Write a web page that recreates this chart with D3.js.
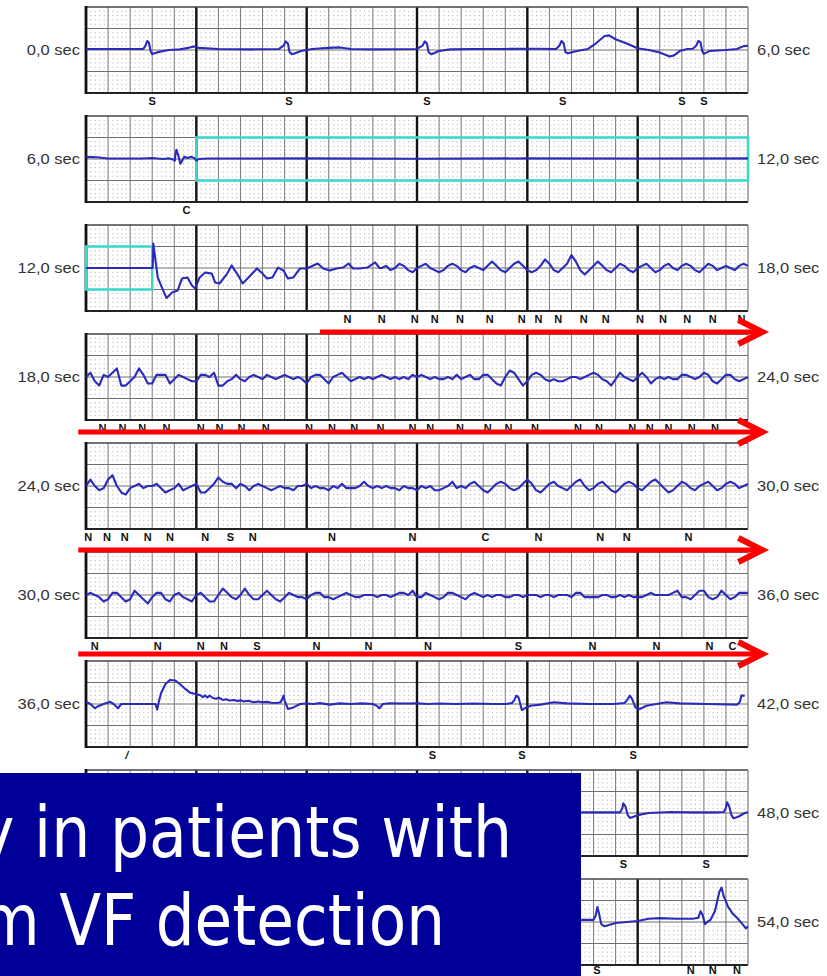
<!DOCTYPE html>
<html>
<head>
<meta charset="utf-8">
<script src="https://cdn.jsdelivr.net/npm/d3@7"></script>
<style>
  body { margin: 0; background: #fff; }
  svg { display: block; }
</style>
</head>
<body>
<svg id="chart" width="827" height="976"></svg>
<script>
// ---- recording layout constants ----
const STRIP_SECONDS = 6;
const SAMPLE_STEP = 0.04;           // seconds between samples in the uniform traces
const FIB3_START = 2.68;            // where the uniform part of strip 3 begins

const startLabels = ["0,0 sec", "6,0 sec", "12,0 sec", "18,0 sec", "24,0 sec", "30,0 sec", "36,0 sec", "42,0 sec", "48,0 sec"];
const endLabels   = ["6,0 sec", "12,0 sec", "18,0 sec", "24,0 sec", "30,0 sec", "36,0 sec", "42,0 sec", "48,0 sec", "54,0 sec"];

// Sparse traces: [seconds into strip, amplitude in tenths of a major division]
const trace1 = [[0,0.5],[0.3,0.5],[0.52,0.5],[0.54,2],[0.555,4.2],[0.57,3.5],[0.585,-0.5],[0.6,-1.9],[0.65,-1],[0.75,0],[0.85,0.3],[0.93,1],[0.98,1.6],[1.02,1],[1.2,0.5],[1.5,0.3],[1.75,0.5],
  [1.79,2],[1.81,4],[1.83,3],[1.845,-1],[1.87,-2],[1.95,-0.5],[2.05,0.5],[2.2,1],[2.3,1.2],[2.4,0.5],[2.6,0.3],[3.0,0.5],
  [3.05,2],[3.07,4],[3.09,3],[3.105,-1],[3.13,-2],[3.2,-0.5],[3.3,0.3],[3.5,0.5],[3.8,0.5],[4.1,0.6],[4.26,0.5],
  [4.29,2],[4.31,4.2],[4.33,3],[4.345,-1],[4.37,-1.5],[4.45,-0.5],[4.55,0.5],[4.62,3],[4.7,6.5],[4.74,6.8],[4.8,5],[4.9,3],[5.0,0.8],[5.1,0],[5.2,-1.2],[5.29,-3],[5.33,-2.5],[5.38,-0.5],[5.45,0.5],[5.5,0.6],
  [5.53,2],[5.55,4.2],[5.57,3.5],[5.585,-0.5],[5.6,-1.8],[5.65,-0.5],[5.8,0],[5.9,0.5],[5.96,1.8],[6.0,2]];

const trace2 = [[0,1],[0.1,0.8],[0.2,0.2],[0.5,0.2],[0.6,0.5],[0.7,0],[0.75,0.3],[0.8,-0.5],[0.805,-0.8],[0.81,2],[0.82,4.3],[0.84,1],[0.855,-2.2],[0.87,-1],[0.89,1],[0.92,0.5],[0.95,1],[0.98,0.5],[1.0,-0.8],[1.02,0],[1.1,0.2],
  [2.0,0.3],[3.0,0.1],[4.0,0.3],[5.0,0.2],[6.0,0.3]];

const trace3Onset = [[0,0],[0.6,0],[0.605,0.5],[0.61,11.4],[0.65,-4.4],[0.7,-10.5],[0.73,-14],[0.78,-11.4],[0.83,-10.5],[0.87,-4.9],[0.92,-4.4],[0.96,-8.1],[0.99,-9.5],[1.03,-4.4],[1.08,-2.1],[1.14,-2.6],[1.17,-6.7],[1.21,-7.2],[1.28,-2.6],[1.32,1.2],[1.35,-1.2],[1.38,-3.5],[1.42,-7.2],[1.49,-3.5],[1.55,-0.2],[1.6,-2.6],[1.64,-4.9],[1.69,-4.4],[1.74,0.2],[1.79,-1.2],[1.83,-4.9],[1.88,-4.4],[1.94,-0.2],[2.0,-0.2],[2.06,1.2],[2.1,2.1],[2.15,-0.2],[2.21,-1.2],[2.27,-0.2],[2.33,0.2],[2.38,2.1],[2.42,-0.2],[2.48,-0.2],[2.55,0.2],[2.62,2.6],[2.66,0]];

// Uniformly sampled fibrillation traces (one value every SAMPLE_STEP seconds)
const fib3 = [0,1,-1,0,2,1,-1,-2,0,1, 2,0,-1,-2,-1,1,2,1,-1,-2, 0,1,0,-1,1,3,1,-1,-2,0, 2,3,1,-1,-2,-1,1,4,2,-1,
  -2,0,2,6,3,-1,-3,-1,1,3, 1,-1,-2,0,2,1,-1,-2,0,1, 2,0,-2,-1,1,2,0,-1,1,2, 1,-1,-2,0,2,1,-1,0,1,0, -1,1,2,1];

const fib4 = [0,2,-2,-4,1,0,2,4,-4,-4, -2,0,4,1,-3,-3,1,1,1,-3, -1,1,0,-1,-2,-2,1,1,0,2, -4,-4,-2,-1,1,-1,-2,0,1,0,
  -1,1,0,-1,0,1,0,-1,0,-1, -3,0,1,1,-1,-3,0,1,2,0, -2,-1,0,-1,0,-1,0,1,0,-1, 0,-1,0,-1,1,0,1,0,-1,0,
  -1,-1,0,-1,1,-1,0,1,-1,-1, 1,1,-1,-3,-4,0,3,2,-1,-4, -2,1,2,1,-1,-2,-1,-2,-2,-1, 0,0,-1,0,1,2,1,-1,-2,-4,
  -1,2,0,-1,-2,0,2,0,-3,-1, 0,-1,0,-1,-1,1,1,0,-1,0, 2,1,-2,-3,-1,1,1,-1,-2,-1, 0];

const fib5 = [0,3,0,-2,-1,3,5,0,-3,-4, -1,0,1,-1,0,0,1,-1,-3,-2, -1,1,-2,-1,0,1,-3,-3,-1,1, 4,2,1,1,-1,1,0,-2,0,1,
  0,-1,-2,-1,0,-1,-1,-2,0,0, 1,-1,0,-1,-1,-2,0,-1,1,-1, -1,-1,0,2,0,-1,0,-1,0,-1, -1,-2,0,-1,-1,-2,0,-1,0,-2,
  -2,-1,0,2,-1,
  0,-1,1,2,0,-2,-3,-1,1,2, 1,-1,-2,-1,1,3,1,-2,-3,-1, 1,2,0,-1,-2,0,2,3,0,-2, -1,1,2,0,-2,-3,-1,1,2,1,
  -1,-2,0,2,3,1,-1,-3,-2,0, 2,1,-1,-2,0,1,2,0,-2,-1, 1,2,1,-1,0,1];

const fib6 = [0,1,0,-1,-3,-2,1,1,-1,-3, -2,2,0,-2,-4,-1,1,1,-2,-3, 0,1,-1,-2,-3,0,1,-1,-3,-3, 0,3,1,-1,-2,0,3,0,-2,-2,
  0,2,0,-2,-3,-1,1,0,-1,-1, -2,0,1,1,-1,-1,-2,-1,0,1, 0,-1,-1,0,0,0,-1,0,0,-1, 0,1,1,0,2,-1,-1,1,0,-1,
  -2,-1,1,1,0,
  -1,-2,0,1,0,-1,0,-1,0,0, -1,-1,0,0,-1,0,0,0,-1,0, 0,-1,0,0,0,-1,1,1,-1,-1, -1,-1,0,0,-1,-1,0,-1,0,-1,
  -1,-1,0,1,0,0,0,0,1,2, -1,-1,-2,0,2,2,-1,-2,-1,2, 0,-2,-1,1,1,1];

const trace7 = [[0,1],[0.04,0],[0.08,-2],[0.11,-1],[0.16,0],[0.22,1],[0.25,0],[0.29,-2],[0.32,0],[0.37,0],[0.5,0],[0.63,0],[0.645,-2.6],[0.66,1],[0.68,5],[0.72,9.3],[0.76,11.2],[0.81,10.9],[0.85,9.3],[0.9,7],[0.94,5.4],[0.99,4.6],[1.03,4.2],[1.06,3.2],[1.08,4],[1.1,3],[1.12,3.9],[1.15,2.8],[1.18,2.4],[1.2,3],[1.24,1.9],[1.27,2.2],[1.3,1.6],[1.34,1.9],[1.37,1.4],[1.4,1.7],[1.43,1.2],[1.47,1.5],[1.52,0.8],[1.56,1.2],[1.6,0.8],[1.64,1],[1.68,0.6],[1.73,0.5],[1.765,0.8],[1.78,2.5],[1.79,3.9],[1.8,1.6],[1.83,-2.3],[1.88,-1.6],[1.94,0],[2.0,0.2],[2.06,0],[2.12,0.4],[2.21,-0.3],[2.3,0.3],[2.4,0],[2.5,0.3],[2.6,0],[2.64,-1],[2.66,-2],[2.69,0],[2.75,0.3],[2.9,0.2],[3.0,0.3],[3.1,0],[3.21,0.2],[3.35,0],[3.51,0.2],[3.7,0],[3.81,0],[3.86,0.5],[3.88,1.6],[3.9,3.9],[3.92,3.1],[3.94,-0.8],[3.95,-2.8],[3.98,-1.9],[4.03,-0.8],[4.12,-0.3],[4.24,0.8],[4.36,0.3],[4.57,0],[4.78,0],[4.88,0.5],[4.9,1.5],[4.93,3.9],[4.95,2.3],[4.98,-1.6],[5.02,-2.3],[5.08,-0.8],[5.26,0.8],[5.38,0.3],[5.63,0],[5.9,-0.3],[5.92,0.5],[5.93,1.6],[5.94,3.9],[5.97,3.9]];

const trace8 = [[0,0.3],[2,0.3],[4.5,0.3],[4.84,0.3],[4.86,2],[4.87,4.5],[4.89,3],[4.91,-1],[4.93,-2.3],[5.0,-1],[5.1,0],[5.3,0.5],[5.5,0.3],[5.7,0.3],[5.78,0.5],[5.8,2.5],[5.81,5],[5.83,3],[5.85,-1],[5.87,-2.5],[5.92,-1.5],[5.97,0],[6.0,0.3]];

const trace9 = [[0,1],[2,1],[4.4,1],[4.6,1],[4.62,3],[4.635,7],[4.65,4],[4.67,-1],[4.7,-2],[4.8,-0.5],[5.0,0.5],[5.1,1.5],[5.2,1.8],[5.35,1.5],[5.5,1.5],[5.55,2],[5.57,5],[5.59,3],[5.61,-1],[5.63,0],[5.66,1],[5.7,5],[5.74,14],[5.76,16],[5.78,12],[5.82,7],[5.86,4],[5.9,2],[5.95,-1],[5.98,-3],[6.0,-2]];

// Beat annotations: [seconds into strip, code]
const beats1 = [[0.6,"S"],[1.84,"S"],[3.09,"S"],[4.32,"S"],[5.4,"S"],[5.6,"S"]];
const beats2 = [[0.91,"C"]];
const beats3 = [[2.37,"N"],[2.68,"N"],[2.98,"N"],[3.16,"N"],[3.39,"N"],[3.66,"N"],[3.95,"N"],[4.1,"N"],[4.28,"N"],[4.51,"N"],[4.71,"N"],[5.02,"N"],[5.23,"N"],[5.45,"N"],[5.68,"N"],[5.94,"N"]];
const beats4 = [[0.15,"N"],[0.33,"N"],[0.51,"N"],[0.73,"N"],[1.04,"N"],[1.21,"N"],[1.41,"N"],[1.63,"N"],[2.02,"N"],[2.23,"N"],[2.43,"N"],[2.67,"N"],[2.96,"N"],[3.12,"N"],[3.39,"N"],[3.64,"N"],[3.83,"N"],[4.07,"N"],[4.46,"N"],[4.65,"N"],[4.95,"N"],[5.11,"N"],[5.28,"N"],[5.49,"N"],[5.7,"N"]];
const beats5 = [[0.02,"N"],[0.19,"N"],[0.35,"N"],[0.56,"N"],[0.76,"N"],[1.08,"N"],[1.31,"S"],[1.51,"N"],[2.23,"N"],[2.96,"N"],[3.62,"C"],[4.1,"N"],[4.66,"N"],[4.9,"N"],[5.46,"N"]];
const beats6 = [[0.08,"N"],[0.65,"N"],[1.04,"N"],[1.25,"N"],[1.55,"S"],[2.09,"N"],[2.56,"N"],[3.1,"N"],[3.92,"S"],[4.59,"N"],[5.17,"N"],[5.65,"N"],[5.86,"C"]];
const beats7 = [[0.37,"/"],[3.14,"S"],[3.95,"S"],[4.96,"S"]];
const beats8 = [[4.87,"S"],[5.62,"S"]];
const beats9 = [[4.63,"S"],[5.48,"N"],[5.68,"N"],[5.9,"N"]];

// Highlighted windows: [strip index, from second, to second]
const highlights = [[1, 1.0, 6.0], [2, 0.0, 0.6]];

// Red progress arrows below strips 3-6: [strip index, start second]
const arrowStrips = [[2, 2.12], [3, -0.07], [4, -0.07], [5, -0.07]];
const arrowY = [332, 432, 550, 654];

const overlayLines = ["y in patients with", "m VF detection"];

// ---- build ----
const svg = d3.select("#chart");
const X0 = 86, X1 = 748, TOP0 = 7, PITCH = 109, H = 86;
const PANEL = { x: 0, y: 773, w: 581, h: 203 };
const x = d3.scaleLinear().domain([0, STRIP_SECONDS]).range([X0, X1]);
const yFor = i => d3.scaleLinear().domain([-20, 20]).range([TOP0 + i * PITCH + H, TOP0 + i * PITCH]);
const uniform = (vals, start) => vals.map((v, i) => [start + i * SAMPLE_STEP, v]);

const strips = [
  { trace: trace1, beats: beats1 },
  { trace: trace2, beats: beats2 },
  { trace: trace3Onset.concat(uniform(fib3, FIB3_START)), beats: beats3 },
  { trace: uniform(fib4, 0), beats: beats4 },
  { trace: uniform(fib5, 0), beats: beats5 },
  { trace: uniform(fib6, 0), beats: beats6 },
  { trace: trace7, beats: beats7 },
  { trace: trace8, beats: beats8 },
  { trace: trace9, beats: beats9 }
];

const labelFont = "'Liberation Sans', Arial, sans-serif";

function stretch(sel, k) {
  sel.each(function () {
    const w = this.getComputedTextLength();
    d3.select(this).attr("textLength", w * k).attr("lengthAdjust", "spacingAndGlyphs");
  });
}

strips.forEach((s, i) => {
  const y = yFor(i);
  const top = TOP0 + i * PITCH;
  const g = svg.append("g").attr("class", "strip");

  // fine dotted grid (0.04 s x 0.2 division)
  const dotRows = d3.range(-18, 19, 2).filter(v => v % 10 !== 0);
  g.selectAll(".dots").data(dotRows).join("line")
    .attr("x1", X0).attr("x2", X1)
    .attr("y1", d => y(d)).attr("y2", d => y(d))
    .attr("stroke", "#a9a9a9").attr("stroke-width", 1)
    .attr("stroke-dasharray", `1 ${(x(SAMPLE_STEP) - x(0) - 1).toFixed(3)}`);

  // 0.2 s vertical lines
  const minorT = d3.range(0.2, STRIP_SECONDS, 0.2).filter(t => Math.abs(t - Math.round(t)) > 0.01);
  g.selectAll(".vminor").data(minorT).join("line")
    .attr("x1", d => x(d)).attr("x2", d => x(d))
    .attr("y1", top).attr("y2", top + H)
    .attr("stroke", "#7c7c7c").attr("stroke-width", 1);

  // horizontal division lines
  g.selectAll(".hmajor").data([-10, 0, 10]).join("line")
    .attr("x1", X0).attr("x2", X1)
    .attr("y1", d => y(d)).attr("y2", d => y(d))
    .attr("stroke", "#6e6e6e").attr("stroke-width", 1);

  // one-second lines
  g.selectAll(".vsec").data(d3.range(1, STRIP_SECONDS)).join("line")
    .attr("x1", d => x(d)).attr("x2", d => x(d))
    .attr("y1", top).attr("y2", top + H)
    .attr("stroke", "#111").attr("stroke-width", 2.4);

  // frame
  g.append("line").attr("x1", X0).attr("x2", X1).attr("y1", top).attr("y2", top)
    .attr("stroke", "#444").attr("stroke-width", 1.6);
  g.append("line").attr("x1", X0).attr("x2", X1).attr("y1", top + H).attr("y2", top + H)
    .attr("stroke", "#222").attr("stroke-width", 2);
  g.append("line").attr("x1", X1).attr("x2", X1).attr("y1", top).attr("y2", top + H)
    .attr("stroke", "#777").attr("stroke-width", 1.2);
  g.append("line").attr("x1", X0).attr("x2", X0).attr("y1", top - 1).attr("y2", top + H + 1)
    .attr("stroke", "#111").attr("stroke-width", 2.8);

  // highlighted window
  highlights.filter(h => h[0] === i).forEach(h => {
    g.append("rect")
      .attr("x", x(h[1])).attr("y", y(10))
      .attr("width", x(h[2]) - x(h[1])).attr("height", y(-10) - y(10))
      .attr("fill", "none").attr("stroke", "#3fd6cc").attr("stroke-width", 2.6);
  });

  // ECG trace
  g.append("path")
    .datum(s.trace)
    .attr("fill", "none")
    .attr("stroke", "#2b2bbb")
    .attr("stroke-width", 2.1)
    .attr("stroke-linejoin", "round")
    .attr("d", d3.line().x(d => x(d[0])).y(d => y(d[1])));

  // beat codes
  g.selectAll(".beat").data(s.beats).join("text")
    .attr("x", d => x(d[0])).attr("y", Math.min(top + H + 11.5, 974))
    .attr("text-anchor", "middle")
    .attr("font-family", labelFont).attr("font-weight", "bold").attr("font-size", 11)
    .attr("font-style", d => d[1] === "/" ? "italic" : null)
    .attr("fill", "#111")
    .text(d => d[1]);

  // time labels (the left one is omitted where the title panel covers it)
  if (y(0) < PANEL.y) {
    g.append("text").attr("x", X0 - 6).attr("y", y(0) + 5)
      .attr("text-anchor", "end").attr("font-family", labelFont).attr("font-size", 15)
      .attr("fill", "#333").text(startLabels[i]).call(stretch, 1.1);
  }
  g.append("text").attr("x", X1 + 9).attr("y", y(0) + 5)
    .attr("font-family", labelFont).attr("font-size", 15)
    .attr("fill", "#333").text(endLabels[i]).call(stretch, 1.1);
});

// red arrows
const arrows = svg.append("g");
arrowStrips.forEach((a, k) => {
  const yy = arrowY[k];
  const tip = x(6.13);
  arrows.append("line").attr("x1", x(a[1])).attr("x2", tip - 4).attr("y1", yy).attr("y2", yy)
    .attr("stroke", "#ff0000").attr("stroke-width", 5);
  arrows.append("path")
    .attr("d", `M${tip - 24},${yy - 12} L${tip},${yy} L${tip - 24},${yy + 12}`)
    .attr("fill", "none").attr("stroke", "#ff0000").attr("stroke-width", 6)
    .attr("stroke-linejoin", "miter");
});

// title panel overlapping the lower strips
const panel = svg.append("g");
panel.append("clipPath").attr("id", "panelClip")
  .append("rect").attr("x", PANEL.x).attr("y", PANEL.y).attr("width", PANEL.w).attr("height", PANEL.h);
panel.append("rect").attr("x", PANEL.x).attr("y", PANEL.y).attr("width", PANEL.w).attr("height", PANEL.h).attr("fill", "#000099");
const tg = panel.append("g").attr("clip-path", "url(#panelClip)");
const lineSpecs = [{ x: -22, y: 857, w: 534 }, { x: -20, y: 945, w: 465 }];
overlayLines.forEach((txt, k) => {
  tg.append("text")
    .attr("x", lineSpecs[k].x).attr("y", lineSpecs[k].y)
    .attr("font-family", "'DejaVu Sans', Verdana, sans-serif")
    .attr("font-size", 72).attr("fill", "#fff")
    .attr("textLength", lineSpecs[k].w).attr("lengthAdjust", "spacingAndGlyphs")
    .text(txt);
});
</script>
</body>
</html>
